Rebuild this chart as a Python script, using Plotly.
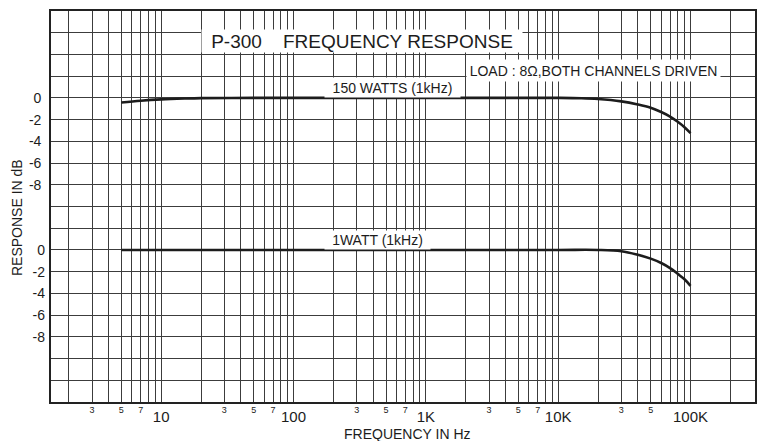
import math
import plotly.graph_objects as go

# ---- data ----
freq_150w = [5, 7, 10, 15, 20, 50, 100, 1000, 10000, 15000, 20000, 30000, 40000, 50000, 60000, 70000, 80000, 90000, 100000]
db_150w = [-0.42, -0.26, -0.14, -0.06, -0.02, 0, 0, 0, 0, -0.03, -0.1, -0.32, -0.6, -0.9, -1.3, -1.72, -2.2, -2.7, -3.25]

freq_1w = [5, 100, 1000, 10000, 20000, 30000, 40000, 50000, 60000, 70000, 80000, 90000, 100000]
db_1w = [0, 0, 0, 0, 0, -0.12, -0.45, -0.8, -1.2, -1.67, -2.2, -2.7, -3.3]

x_major_ticks = [10, 100, 1000, 10000, 100000]
x_major_text = ["10", "100", "1K", "10K", "100K"]
x_minor_ticks = [3, 5, 7, 30, 50, 70, 300, 500, 700, 3000, 5000, 7000, 30000, 50000]
x_minor_text = ["3", "5", "7", "3", "5", "7", "3", "5", "7", "3", "5", "7", "3", "5"]

y_tick_vals = [0, -2, -4, -6, -8]
y_tick_text = ["0", "-2", "-4", "-6", "-8"]

# ---- layout geometry ----
W, H = 762, 441
ML, MR, MT, MB = 51, 7, 11, 39
PW, PH = W - ML - MR, H - MT - MB

def px(x):
    return (x - ML) / PW

def py(y):
    return (H - MB - y) / PH

FONT = "Liberation Sans, Arial, sans-serif"
INK = "#1c1c1c"
GRID = "#3c3c3c"
BG = "#ffffff"

# grid positions on the log axis: 1..9 x 10^k, within range
grid_x = [m * 10 ** k for k in range(0, 6) for m in range(1, 10) if 2 <= m * 10 ** k <= 200000]
major_text_map = dict(zip(x_major_ticks, x_major_text))
grid_text = [major_text_map.get(v, "") for v in grid_x]

y_grid = list(range(-26, 8, 2))
y_grid_text = [dict(zip(y_tick_vals, y_tick_text)).get(v, "") for v in y_grid]

fig = go.Figure()
fig.add_trace(go.Scatter(x=freq_150w, y=db_150w, mode="lines", line=dict(color=INK, width=2.6, shape="spline"),
                         xaxis="x", yaxis="y", showlegend=False, name="150 WATTS"))
fig.add_trace(go.Scatter(x=freq_1w, y=db_1w, mode="lines", line=dict(color=INK, width=2.6, shape="spline"),
                         xaxis="x", yaxis="y2", showlegend=False, name="1 WATT"))
# carrier so the minor-label axis is drawn (no visible marks)
fig.add_trace(go.Scatter(x=x_minor_ticks, y=[None] * len(x_minor_ticks), mode="lines",
                         xaxis="x2", yaxis="y", showlegend=False, hoverinfo="skip"))

xr = [math.log10(1.47), math.log10(307000)]

fig.update_layout(
    width=W, height=H,
    margin=dict(l=ML, r=MR, t=MT, b=MB, autoexpand=False),
    paper_bgcolor=BG, plot_bgcolor=BG,
    font=dict(family=FONT, color=INK),
    xaxis=dict(type="log", range=xr, tickvals=grid_x, ticktext=grid_text, ticks="",
               showgrid=True, gridcolor=GRID, gridwidth=1, zeroline=False, automargin=False,
               showline=True, mirror=True, linecolor="#222", linewidth=1.6,
               tickfont=dict(size=15, family=FONT, color=INK), ticklabelstandoff=0),
    xaxis2=dict(type="log", range=xr, overlaying="x", anchor="y", side="bottom",
                tickvals=x_minor_ticks, ticktext=x_minor_text, ticks="", showgrid=False,
                zeroline=False, showline=False, automargin=False,
                tickfont=dict(size=9, family=FONT, color=INK), ticklabelstandoff=1),
    yaxis=dict(range=[-28, 8], tickvals=y_grid, ticktext=y_grid_text, ticks="",
               showgrid=True, gridcolor=GRID, gridwidth=1, zeroline=False, automargin=False,
               showline=True, mirror=True, linecolor="#222", linewidth=1.6,
               tickfont=dict(size=14, family=FONT, color=INK), ticklabelstandoff=5),
    yaxis2=dict(range=[-14, 22], overlaying="y", side="left", anchor="x",
                tickvals=y_tick_vals, ticktext=y_tick_text, ticks="", showgrid=False,
                zeroline=False, showline=False, automargin=False,
                tickfont=dict(size=14, family=FONT, color=INK), ticklabelstandoff=5),
)

def box(text, cx, cy, w, h, size):
    return dict(text=text, xref="paper", yref="paper", x=px(cx), y=py(cy),
                xanchor="center", yanchor="middle", showarrow=False,
                width=w, height=h, bgcolor=BG, borderpad=0,
                font=dict(size=size, family=FONT, color=INK))

annotations = [
    box("P-300\u00a0\u00a0\u00a0\u00a0FREQUENCY RESPONSE", 362, 41, 320, 22, 19),
    box("LOAD : 8\u03a9,BOTH CHANNELS DRIVEN", 593.5, 70.5, 253, 21, 14),
    box("150 WATTS (1kHz)", 392.5, 88, 135, 19, 14),
    box("1WATT (1kHz)", 377.5, 240, 105, 18, 14),
    dict(text="FREQUENCY IN Hz", xref="paper", yref="paper", x=px(407.5), y=py(434),
         xanchor="center", yanchor="middle", showarrow=False,
         font=dict(size=14, family=FONT, color=INK)),
    dict(text="RESPONSE IN dB", xref="paper", yref="paper", x=px(17), y=py(218),
         xanchor="center", yanchor="middle", showarrow=False, textangle=-90,
         font=dict(size=14, family=FONT, color=INK)),
]
fig.update_layout(annotations=annotations)

fig.write_html("out.html", config={"displayModeBar": False},
               post_script="document.body.style.margin='0px';document.body.style.overflow='hidden';")
